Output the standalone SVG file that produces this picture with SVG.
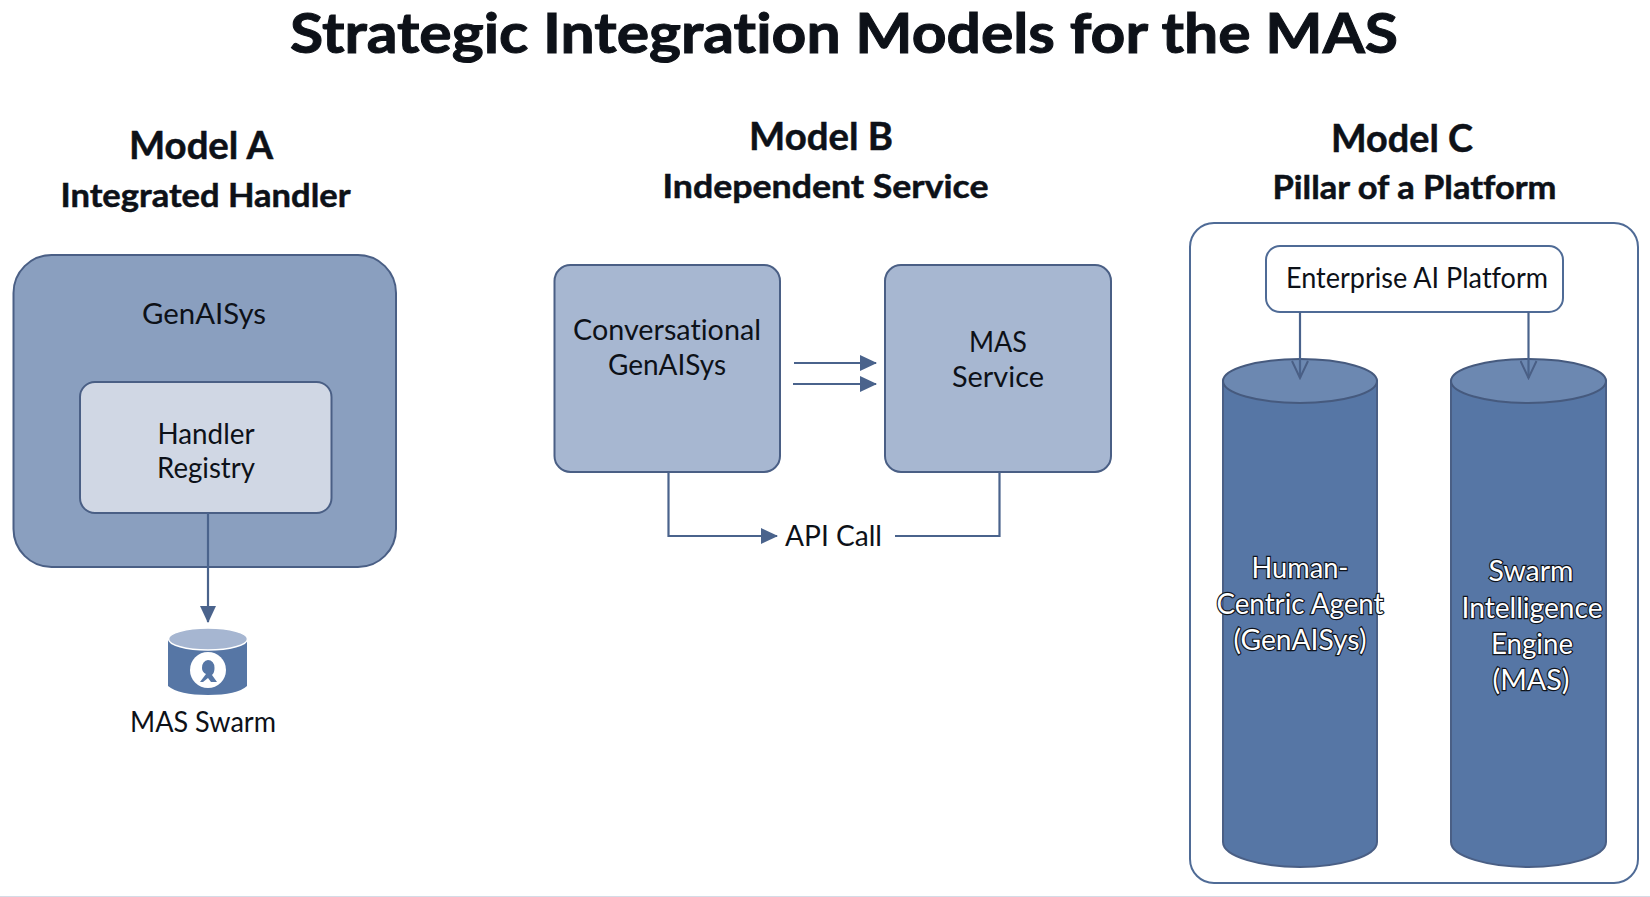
<svg xmlns="http://www.w3.org/2000/svg" width="1650" height="897" viewBox="0 0 1650 897">
<style>
text{font-family:Lato,"Noto Sans","Liberation Sans",sans-serif;fill:#0d1118;text-anchor:middle;font-size:29px;font-variant-ligatures:none}
.h{font-weight:700;stroke:#0d1118;stroke-width:.5px}
.m{font-size:38px}
.s{font-size:32px}
.w{fill:#fff;stroke:#10141c;stroke-width:2.4px;paint-order:stroke;font-size:29px}
.ln{fill:none;stroke:#4a638c;stroke-width:2.2}
.ed{stroke:#4a5f85;stroke-width:2}
.cyl{fill:#5676a5;stroke:#4a5f85;stroke-width:2}
.top{fill:#6c88b1;stroke:#465a7e;stroke-width:2}
</style>
<defs>
<marker id="a" markerUnits="userSpaceOnUse" markerWidth="18" markerHeight="16" refX="16" refY="8" orient="auto"><path d="M0 0L17 8L0 16Z" fill="#4a638c"/></marker>
<marker id="o" markerUnits="userSpaceOnUse" markerWidth="20" markerHeight="18" refX="18" refY="9" orient="auto"><path d="M1 1L18 9L1 17" fill="none" stroke="#4a5f85" stroke-width="2"/></marker>
</defs>
<rect x="0" y="896" width="1650" height="1" fill="#d5dbe6"/>
<g id="titles">
<text class="h" x="844" y="53" style="font-size:56px;stroke-width:1px" textLength="1108" lengthAdjust="spacingAndGlyphs">Strategic Integration Models for the MAS</text>
<text class="h m" x="201" y="159" textLength="144" lengthAdjust="spacingAndGlyphs">Model A</text>
<text class="h s" x="205.500" y="207" textLength="290" lengthAdjust="spacingAndGlyphs">Integrated Handler</text>
<text class="h m" x="821" y="150" textLength="144" lengthAdjust="spacingAndGlyphs">Model B</text>
<text class="h s" x="825.500" y="198" textLength="326" lengthAdjust="spacingAndGlyphs">Independent Service</text>
<text class="h m" x="1402" y="152" textLength="142" lengthAdjust="spacingAndGlyphs">Model C</text>
<text class="h s" x="1414.500" y="199" textLength="284" lengthAdjust="spacingAndGlyphs">Pillar of a Platform</text>
</g>
<g id="genaisys">
<rect x="13.5" y="255" width="382.5" height="312" rx="38" fill="#8a9fbf" class="ed"/>
<text x="204" y="324" textLength="124" lengthAdjust="spacingAndGlyphs">GenAISys</text>
</g>
<g id="handler-registry">
<rect x="80" y="382" width="251.500" height="131" rx="15" fill="#d0d7e4" class="ed"/>
<text x="206" y="444" textLength="97" lengthAdjust="spacingAndGlyphs">Handler</text>
<text x="206" y="478" textLength="98" lengthAdjust="spacingAndGlyphs">Registry</text>
</g>
<g id="mas-swarm">
<path d="M168 639V686Q179 695 208 695Q237 695 247 686V639Z" fill="#5676a5"/>
<ellipse cx="208" cy="639" rx="39.500" ry="11" fill="#a6b6d1" stroke="#fff" stroke-width="1.500"/>
<circle cx="208" cy="670" r="18" fill="#fff"/>
<path d="M208 660a6.500 7.500 0 0 1 6.500 8q0 5-2.500 7l5 7h-6l-3-4-5 4h-3l6-8q-4-2-4-6a6.500 7.500 0 0 1 6-8Z" fill="#5676a5"/>
<text x="203" y="732" textLength="146" lengthAdjust="spacingAndGlyphs">MAS Swarm</text>
</g>
<g id="conversational-genaisys">
<rect x="554.500" y="265" width="225.500" height="207" rx="16" fill="#a7b7d1" class="ed"/>
<text x="667" y="340" textLength="188" lengthAdjust="spacingAndGlyphs">Conversational</text>
<text x="667" y="375" textLength="118" lengthAdjust="spacingAndGlyphs">GenAISys</text>
</g>
<g id="mas-service">
<rect x="885" y="265" width="226" height="207" rx="16" fill="#a7b7d1" class="ed"/>
<text x="998" y="352" textLength="58" lengthAdjust="spacingAndGlyphs">MAS</text>
<text x="998" y="387" textLength="92" lengthAdjust="spacingAndGlyphs">Service</text>
</g>
<g id="api-call">
<text x="833.500" y="546" textLength="97" lengthAdjust="spacingAndGlyphs">API Call</text>
</g>
<g id="platform-frame">
<rect x="1190" y="223" width="448" height="660" rx="24" fill="#fff" stroke="#4f6b96" stroke-width="2"/>
</g>
<g id="human-centric-agent">
<path class="cyl" d="M1223 381V842C1223 857 1262 867 1300 867C1338 867 1377 857 1377 842V381Z"/>
<ellipse class="top" cx="1300" cy="381" rx="77" ry="22"/>
<text class="w" x="1300" y="578" textLength="97" lengthAdjust="spacingAndGlyphs">Human-</text>
<text class="w" x="1300" y="614" textLength="167" lengthAdjust="spacingAndGlyphs">Centric Agent</text>
<text class="w" x="1300" y="650" textLength="133" lengthAdjust="spacingAndGlyphs">(GenAISys)</text>
</g>
<g id="swarm-intelligence-engine">
<path class="cyl" d="M1451 381V842C1451 857 1490 867 1528.500 867C1567 867 1606 857 1606 842V381Z"/>
<ellipse class="top" cx="1528.500" cy="381" rx="77.500" ry="22"/>
<text class="w" x="1531" y="581" textLength="85" lengthAdjust="spacingAndGlyphs">Swarm</text>
<text class="w" x="1532" y="618" textLength="141" lengthAdjust="spacingAndGlyphs">Intelligence</text>
<text class="w" x="1532" y="654" textLength="82" lengthAdjust="spacingAndGlyphs">Engine</text>
<text class="w" x="1531" y="690" textLength="77" lengthAdjust="spacingAndGlyphs">(MAS)</text>
</g>
<g id="enterprise-ai-platform">
<rect x="1266" y="246" width="297" height="66" rx="14" fill="#fff" stroke="#4f6b96" stroke-width="2"/>
<text x="1417" y="288" textLength="262" lengthAdjust="spacingAndGlyphs">Enterprise AI Platform</text>
</g>
<g id="connectors">
<path class="ln" d="M208 513V622" marker-end="url(#a)"/>
<path class="ln" d="M794 363H876" marker-end="url(#a)"/>
<path class="ln" d="M793 384H876" marker-end="url(#a)"/>
<path class="ln" d="M668.500 472V536H777" marker-end="url(#a)"/>
<path class="ln" d="M895 536H999.500V472"/>
<path class="ln" d="M1300 312V378" stroke-width="1.500" marker-end="url(#o)"/>
<path class="ln" d="M1528.500 312V378" stroke-width="1.500" marker-end="url(#o)"/>
</g>
</svg>
